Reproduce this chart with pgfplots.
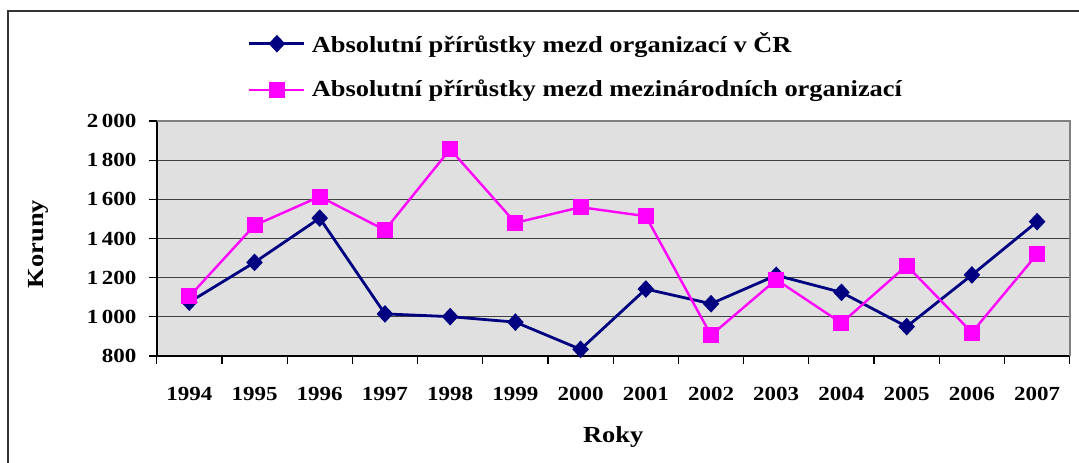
\documentclass[border=0pt]{standalone}
\usepackage{fontspec}
\setmainfont{Liberation Serif}[FakeStretch=1.15]
\usepackage{pgfplots}
\pgfplotsset{compat=1.18}
\definecolor{navyc}{RGB}{0,0,128}
\definecolor{magc}{RGB}{255,0,255}
\definecolor{bgc}{RGB}{224,224,224}
\begin{document}
\begin{tikzpicture}
\begin{axis}[
  scale only axis, width=456.5pt, height=117.5pt,
  at={(78.35pt,53pt)}, anchor=south west,
  xmin=1993.5, xmax=2007.5, ymin=800, ymax=2000,
  clip=false,
  axis x line*=bottom, axis y line*=left,
  axis line style={-, black, line width=0.8pt},
  axis background/.style={fill=bgc},
  xtick={1993.5,1994.5,1995.5,1996.5,1997.5,1998.5,1999.5,2000.5,2001.5,2002.5,2003.5,2004.5,2005.5,2006.5,2007.5},
  xticklabels={1994,1995,1996,1997,1998,1999,2000,2001,2002,2003,2004,2005,2006,2007,{}},
  xticklabel style={font=\bfseries\fontsize{10}{11}\selectfont, anchor=north, inner sep=0pt, xshift=16.3pt, yshift=-11.5pt},
  ytick={800,1000,1200,1400,1600,1800,2000},
  yticklabels={800,1\,000,1\,200,1\,400,1\,600,1\,800,2\,000},
  yticklabel style={font=\bfseries\fontsize{10}{11}\selectfont, anchor=east, inner sep=0pt, xshift=-6pt},
  tick align=outside, major tick length=4pt,
  tick style={black, line width=0.6pt},
  ymajorgrids, grid style={black!75, line width=0.6pt},
  xlabel={Roky}, ylabel={Koruny},
  label style={font=\bfseries\fontsize{11.5}{13}\selectfont},
  xlabel style={at={(axis description cs:0.5,-0.3447)}, anchor=center},
  ylabel style={at={(axis description cs:-0.130,0.477)}, anchor=center},
  legend style={draw=none, fill=none, at={(axis description cs:0.1,1.234)}, anchor=west,
    inner sep=0pt, outer sep=0pt, row sep=8.5pt, column sep=1pt,
    font=\bfseries\fontsize{11.5}{13}\selectfont, legend cell align=left},
  legend image code/.code={\draw[mark repeat=2,mark phase=2,#1] plot coordinates {(0pt,0pt) (13.75pt,0pt) (27.5pt,0pt)};},
]
\addplot[navyc, line width=1.4pt, mark=diamond*, mark size=3.4pt, mark options={solid, xscale=1.25}] coordinates {
  (1994,1075) (1995,1278) (1996,1504) (1997,1015) (1998,1001) (1999,973) (2000,834)
  (2001,1142) (2002,1067) (2003,1212) (2004,1125) (2005,950) (2006,1214) (2007,1486)};
\addlegendentry{Absolutní přírůstky mezd organizací v ČR}
\addplot[magc, line width=1.2pt, mark=square*, mark size=3.4pt, mark options={solid}] coordinates {
  (1994,1104) (1995,1467) (1996,1614) (1997,1443) (1998,1856) (1999,1480) (2000,1560)
  (2001,1514) (2002,906) (2003,1190) (2004,968) (2005,1262) (2006,920) (2007,1320)};
\addlegendentry{Absolutní přírůstky mezd mezinárodních organizací}
\draw[gray, line width=1pt] (rel axis cs:0,1) -- (rel axis cs:1,1) -- (rel axis cs:1,0);
\end{axis}
\draw[line width=1pt, black!80] (4pt,-2pt) -- (4pt,225.5pt) -- (545pt,225.5pt);
\pgfresetboundingbox
\useasboundingbox (0,0) rectangle (539.5pt,231pt);
\end{tikzpicture}
\end{document}
